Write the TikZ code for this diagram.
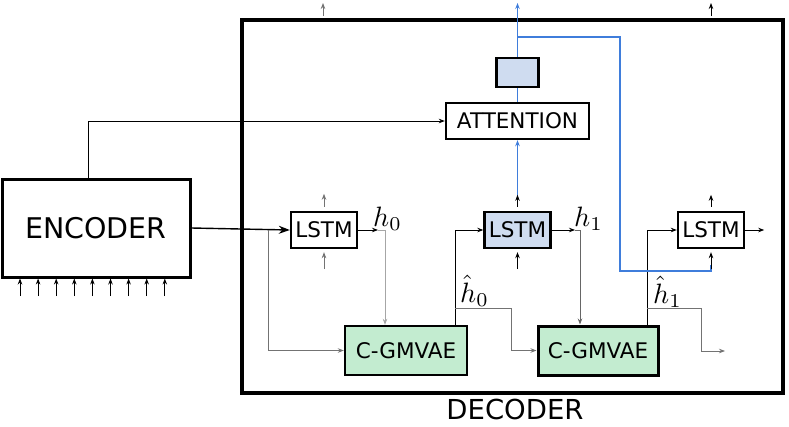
\documentclass[tikz,border=0pt]{standalone}
\usepackage[no-math]{fontspec}
\usepackage{graphicx}
\setmainfont{DejaVu Sans}
\usetikzlibrary{arrows.meta,calc}
\definecolor{lblue}{HTML}{CFDCF0}
\definecolor{lgreen}{HTML}{C3ECD0}
\definecolor{bline}{HTML}{3F7DDB}
\tikzset{
  box/.style={draw=black, line width=2.4pt, inner sep=0pt, font=\fontsize{21.5}{24}\selectfont},
  arr/.style={-{Stealth[length=6pt,width=4.5pt]}, line width=0.8pt},
  bigarr/.style={-{Stealth[length=11pt,width=8pt]}, line width=1.4pt},
  garr/.style={arr, draw=black!55},
  barr/.style={arr, draw=bline, line width=1.3pt},
  bln/.style={draw=bline, line width=1.3pt},
  lbl/.style={inner sep=0pt, anchor=base west}
}
\newcommand{\biglbl}[1]{\scalebox{2.8}{$#1$}}
\begin{document}
\begin{tikzpicture}[x=1pt,y=-1pt]
\useasboundingbox (0,0) rectangle (789,426);
% main boxes
\node[box, line width=4pt, minimum width=541pt, minimum height=373pt] (dec) at (512.5,206.5) {};
\node[font=\fontsize{27.5}{30}\selectfont] (declbl) at (515,409) {DECODER};
\node[box, line width=3pt, minimum width=188pt, minimum height=98pt, font=\fontsize{28.5}{30}\selectfont] (enc) at (96,228) {ENCODER};
% blue chain drawn first so boxes sit on top
\coordinate (top) at (517.5,3);
\coordinate (br0) at (517.5,37);
\coordinate (br1) at (620,37);
\coordinate (br2) at (620,271);
\coordinate (br3) at (711,271);
\node[box, minimum width=143pt, minimum height=36pt] (att) at (517.5,121) {ATTENTION};
\node[box, fill=lblue, minimum width=42pt, minimum height=29pt] (sm) at (517.5,72.5) {};
\node[box, minimum width=66pt, minimum height=36pt] (l1) at (324,230) {LSTM};
\node[box, fill=lblue, minimum width=66pt, minimum height=36pt] (l2) at (517.5,230) {LSTM};
\node[box, minimum width=66pt, minimum height=36pt] (l3) at (711,230) {LSTM};
\node[box, fill=lgreen, minimum width=122pt, minimum height=49pt] (cg1) at (406,350.5) {C-GMVAE};
\node[box, fill=lgreen, line width=3pt, minimum width=120pt, minimum height=49pt] (cg2) at (598,350.5) {C-GMVAE};
% labels
\node[lbl] (h0) at (373,226.5) {\biglbl{h_0}};
\node[lbl] (h1) at (574,226.5) {\biglbl{h_1}};
\node[lbl] (hh0) at (460,302) {\biglbl{\hat{h}_0}};
\node[lbl] (hh1) at (653,303) {\biglbl{\hat{h}_1}};
% encoder inputs
\foreach \i in {0,...,8} {
  \coordinate (in\i) at ({20+18.1*\i},296);
  \draw[arr] (in\i) -- (in\i |- enc.south);
}
% encoder to attention and lstm
\coordinate (e1) at (88,0);
\draw[arr] (enc.north -| e1) |- (att.west);
\draw[bigarr] (enc.east) -- (l1.west);
\coordinate (b1) at (268,230);
\draw[garr] (b1) |- (cg1.west);
% LSTM1
\draw[garr] ($(l1.north)+(0,-4)$) -- ($(l1.north)+(0,-17)$);
\draw[garr] ($(l1.south)+(0,20)$) -- ($(l1.south)+(0,3)$);
\coordinate (h0a) at (378,230);
\coordinate (h0b) at (385,230);
\draw[arr] (l1.east) -- (h0a);
\draw[garr, draw=black!35] (h0a) -- (h0b) -- (h0b |- cg1.north);
% C-GMVAE1 outputs
\coordinate (c1) at (455,0);
\draw[arr] (cg1.north -| c1) |- (l2.west);
\coordinate (s1) at (455,308);
\coordinate (t1) at (511,308);
\draw[garr] (s1) -- (t1) |- (cg2.west);
% LSTM2
\draw[barr] ($(l2.north)+(0,-14)$) -- (att.south);
\draw[arr] ($(l2.north)+(0,-4)$) -- ($(l2.north)+(0,-16)$);
\draw[arr] ($(l2.south)+(0,20)$) -- ($(l2.south)+(0,3)$);
\coordinate (h1a) at (575,230);
\coordinate (h1b) at (580,230);
\draw[arr] (l2.east) -- (h1a);
\draw[arr, draw=black!60] (h1a) -- (h1b) -- (h1b |- cg2.north);
% C-GMVAE2 outputs
\coordinate (c2) at (647,0);
\draw[arr] (cg2.north -| c2) |- (l3.west);
\coordinate (s2) at (647,308);
\coordinate (t2) at (701,308);
\coordinate (u2) at (725,351);
\draw[garr] (s2) -- (t2) |- (u2);
% LSTM3
\draw[arr] ($(l3.north)+(0,-4)$) -- ($(l3.north)+(0,-16)$);
\draw[arr] (l3.east) -- ++(19,0);
% attention chain (blue)
\draw[bln] (att.north) -- (sm.south);
\draw[barr] (sm.north) -- (top);
\draw[bln] (br0) -- (br1) -- (br2) -- (br3) -- ++(0,-6);
\draw[arr] ($(l3.south)+(0,20)$) -- ($(l3.south)+(0,3)$);
% outside top arrows
\coordinate (o1) at (323,3);
\coordinate (o3) at (711,3);
\draw[garr] (o1 |- dec.north) ++(0,-2) -- (o1);
\draw[arr] (o3 |- dec.north) ++(0,-2) -- (o3);
\end{tikzpicture}
\end{document}
